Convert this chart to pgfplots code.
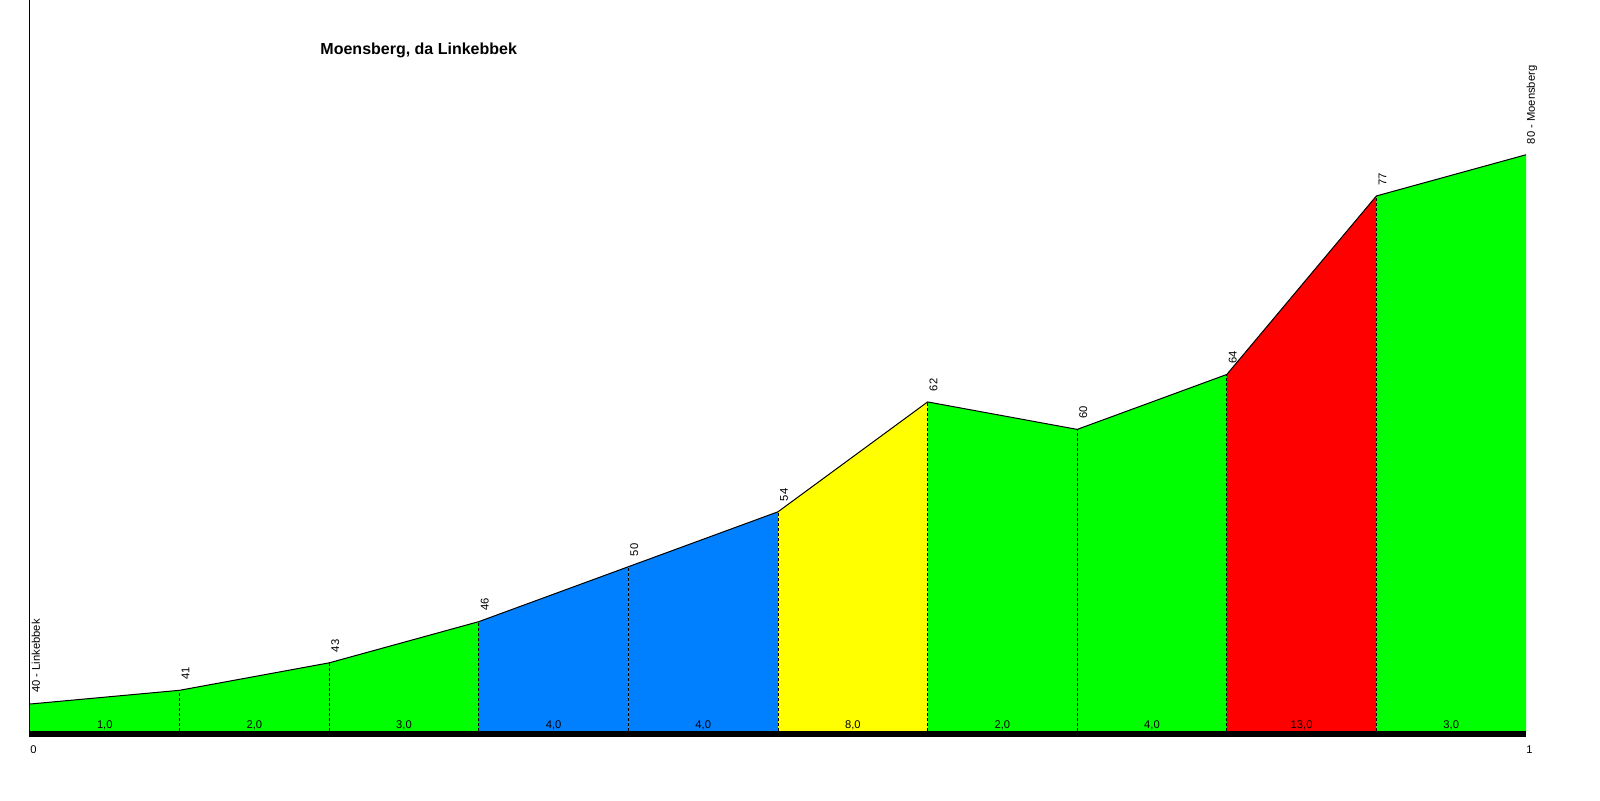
\documentclass[border=0pt]{standalone}
\usepackage{fontspec}
\setmainfont{Liberation Sans}
\usepackage{pgfplots}
\pgfplotsset{compat=1.18}

\definecolor{gGreen}{HTML}{00FF00}
\definecolor{gBlue}{HTML}{0080FF}
\definecolor{gYellow}{HTML}{FFFF00}
\definecolor{gRed}{HTML}{FF0000}

\tikzset{
    lbl/.style={inner sep=0pt, font=\fontsize{5.6}{6}\selectfont},
    elev/.style={lbl, rotate=90, anchor=west},
}

\begin{document}
\begin{tikzpicture}
\begin{axis}[
    name=prof,
    scale only axis,
    width=800pt, height=400pt,
    xmin=-0.02005, xmax=1.04947,
    ymin=33.01, ymax=91.27,
    hide axis,
    clip=false,
]
% segments, coloured by gradient
\addplot[fill=gGreen, draw=none]  coordinates {(0,37.8) (0,40) (0.1,41) (0.1,37.8)} --cycle;
\addplot[fill=gGreen, draw=none]  coordinates {(0.1,37.8) (0.1,41) (0.2,43) (0.2,37.8)} --cycle;
\addplot[fill=gGreen, draw=none]  coordinates {(0.2,37.8) (0.2,43) (0.3,46) (0.3,37.8)} --cycle;
\addplot[fill=gBlue, draw=none]   coordinates {(0.3,37.8) (0.3,46) (0.4,50) (0.4,37.8)} --cycle;
\addplot[fill=gBlue, draw=none]   coordinates {(0.4,37.8) (0.4,50) (0.5,54) (0.5,37.8)} --cycle;
\addplot[fill=gYellow, draw=none] coordinates {(0.5,37.8) (0.5,54) (0.6,62) (0.6,37.8)} --cycle;
\addplot[fill=gGreen, draw=none]  coordinates {(0.6,37.8) (0.6,62) (0.7,60) (0.7,37.8)} --cycle;
\addplot[fill=gGreen, draw=none]  coordinates {(0.7,37.8) (0.7,60) (0.8,64) (0.8,37.8)} --cycle;
\addplot[fill=gRed, draw=none]    coordinates {(0.8,37.8) (0.8,64) (0.9,77) (0.9,37.8)} --cycle;
\addplot[fill=gGreen, draw=none]  coordinates {(0.9,37.8) (0.9,77) (1,80) (1,37.8)} --cycle;

% dashed separators
\addplot[black, line width=0.5pt, dash pattern=on 1.5pt off 1pt, unbounded coords=jump] coordinates {
    (0.1,38) (0.1,41) (0.1,nan)
    (0.2,38) (0.2,43) (0.2,nan)
    (0.3,38) (0.3,46) (0.3,nan)
    (0.4,38) (0.4,50) (0.4,nan)
    (0.5,38) (0.5,54) (0.5,nan)
    (0.6,38) (0.6,62) (0.6,nan)
    (0.7,38) (0.7,60) (0.7,nan)
    (0.8,38) (0.8,64) (0.8,nan)
    (0.9,38) (0.9,77)
};

% profile
\addplot[black, line width=0.5pt] coordinates {
    (0,40) (0.1,41) (0.2,43) (0.3,46) (0.4,50) (0.5,54)
    (0.6,62) (0.7,60) (0.8,64) (0.9,77) (1,80)
};

% base bar and left line
\addplot[fill=black, draw=none] coordinates {(0,37.59) (1,37.59) (1,38.03) (0,38.03)} --cycle;
\addplot[black, line width=0.5pt] coordinates {(0,37.59) (0,91.27)};

% elevation labels
\node[elev] at (axis cs:0.004,40.8) {40 - Linkebbek};
\node[elev] at (axis cs:0.104,41.75) {41};
\node[elev] at (axis cs:0.204,43.75) {43};
\node[elev] at (axis cs:0.304,46.75) {46};
\node[elev] at (axis cs:0.404,50.75) {50};
\node[elev] at (axis cs:0.504,54.75) {54};
\node[elev] at (axis cs:0.604,62.75) {62};
\node[elev] at (axis cs:0.704,60.75) {60};
\node[elev] at (axis cs:0.804,64.75) {64};
\node[elev] at (axis cs:0.904,77.75) {77};
\node[elev] at (axis cs:1.004,80.75) {80 - Moensberg};

% gradient labels
\node[lbl, anchor=base] at (axis cs:0.05,38.2) {1,0};
\node[lbl, anchor=base] at (axis cs:0.15,38.2) {2,0};
\node[lbl, anchor=base] at (axis cs:0.25,38.2) {3,0};
\node[lbl, anchor=base] at (axis cs:0.35,38.2) {4,0};
\node[lbl, anchor=base] at (axis cs:0.45,38.2) {4,0};
\node[lbl, anchor=base] at (axis cs:0.55,38.2) {8,0};
\node[lbl, anchor=base] at (axis cs:0.65,38.2) {2,0};
\node[lbl, anchor=base] at (axis cs:0.75,38.2) {4,0};
\node[lbl, anchor=base] at (axis cs:0.85,38.2) {13,0};
\node[lbl, anchor=base] at (axis cs:0.95,38.2) {3,0};

% distance labels
\node[lbl, anchor=base west] at (axis cs:0,36.4) {0};
\node[lbl, anchor=base west] at (axis cs:1,36.4) {1};

% title
\node[inner sep=0pt, anchor=base west, font=\fontsize{8}{9}\selectfont\bfseries] at (axis cs:0.1939,87.27) {Moensberg, da Linkebbek};
\end{axis}
\pgfresetboundingbox
\path[use as bounding box] (prof.south west) rectangle (prof.north east);
\end{tikzpicture}
\end{document}
